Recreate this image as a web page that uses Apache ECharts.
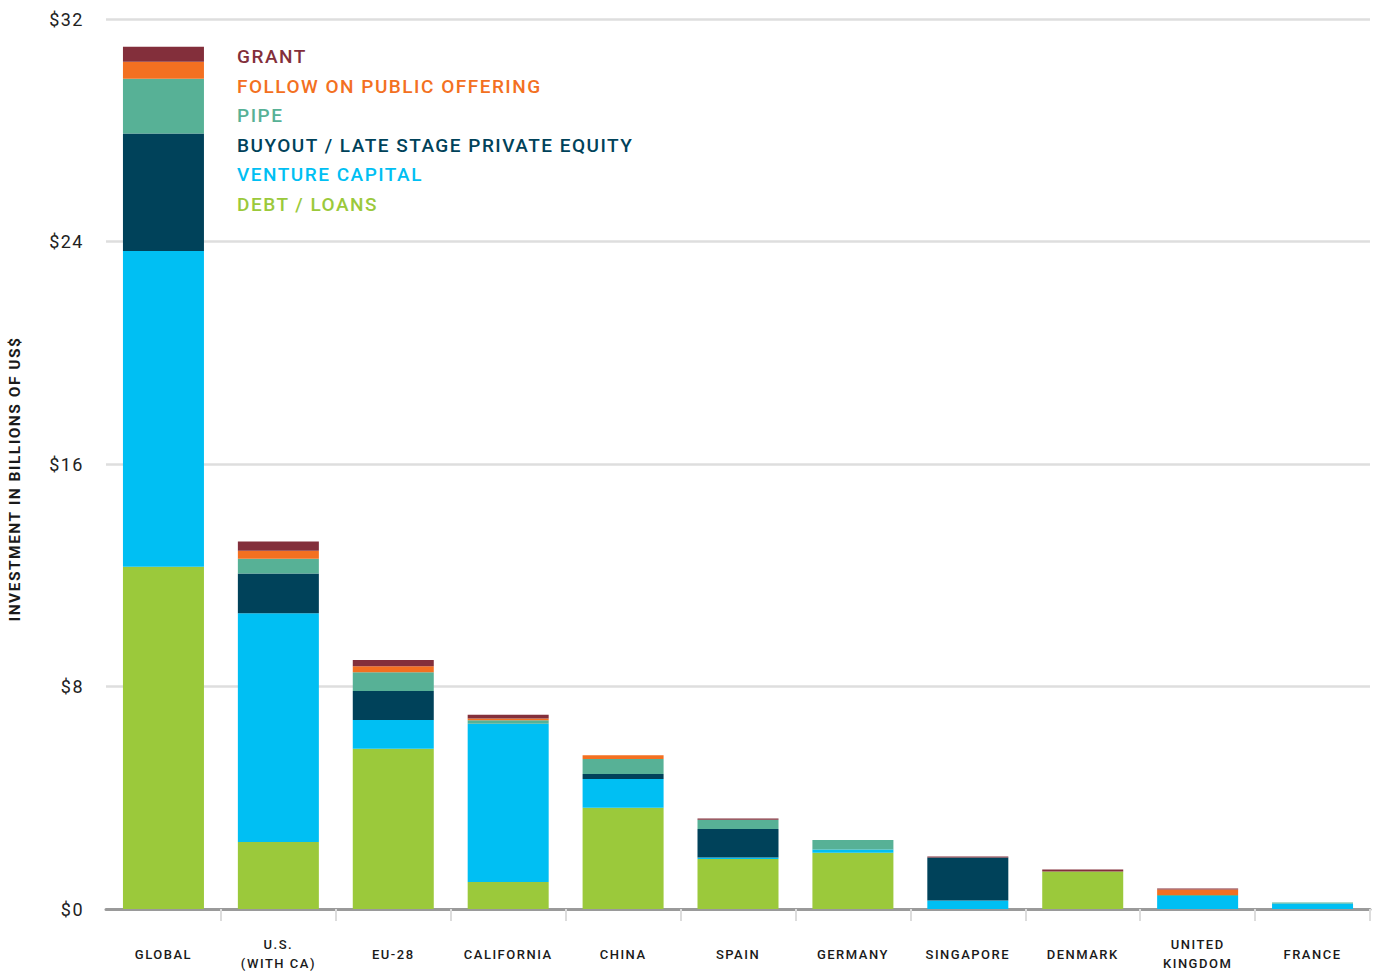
<!DOCTYPE html>
<html>
<head>
<meta charset="utf-8">
<script src="https://cdn.jsdelivr.net/npm/echarts@6/dist/echarts.min.js"></script>
<style>
html,body{margin:0;padding:0;background:#fff}
#c{width:1378px;height:973px}
#c text{letter-spacing:1.5px}
</style>
</head>
<body>
<div id="c"></div>
<script>
const categories = ['GLOBAL','U.S.\n(WITH CA)','EU-28','CALIFORNIA','CHINA','SPAIN','GERMANY','SINGAPORE','DENMARK','UNITED\nKINGDOM','FRANCE'];
const debtLoans = [12.31, 2.41, 5.76, 0.97, 3.64, 1.80, 2.02, 0, 1.35, 0, 0];
const ventureCapital = [11.35, 8.22, 1.04, 5.69, 1.03, 0.05, 0.12, 0.31, 0, 0.47, 0.20];
const buyout = [4.22, 1.43, 1.04, 0, 0.18, 1.03, 0, 1.54, 0, 0, 0];
const pipe = [1.97, 0.53, 0.67, 0.13, 0.54, 0.33, 0.34, 0, 0, 0.03, 0.03];
const followOn = [0.61, 0.29, 0.22, 0.06, 0.14, 0, 0, 0, 0, 0.20, 0];
const grant = [0.54, 0.33, 0.22, 0.13, 0, 0.04, 0, 0.04, 0.07, 0.04, 0];
const yTicks = [0, 8, 16, 24, 32];

const seriesDefs = [
  {name:'DEBT / LOANS', data: debtLoans, color:'#9bc93b'},
  {name:'VENTURE CAPITAL', data: ventureCapital, color:'#00bff3'},
  {name:'BUYOUT / LATE STAGE PRIVATE EQUITY', data: buyout, color:'#00425a'},
  {name:'PIPE', data: pipe, color:'#57b196'},
  {name:'FOLLOW ON PUBLIC OFFERING', data: followOn, color:'#f37021'},
  {name:'GRANT', data: grant, color:'#832f3b'}
];

const chart = echarts.init(document.getElementById('c'), null, {renderer:'svg'});
chart.setOption({
  animation:false,
  backgroundColor:'#fff',
  grid:{left:106, right:8, top:19, bottom:60, containLabel:false},
  legend:{
    orient:'vertical', left:227, top:41, itemWidth:0, itemHeight:14, itemGap:8.5,
    selectedMode:false,
    textStyle:{fontFamily:'Roboto', fontWeight:500, fontSize:19, lineHeight:21},
    data: seriesDefs.slice().reverse().map(s => ({name:s.name, icon:'rect', textStyle:{color:s.color}}))
  },
  graphic:[{
    type:'text', x:15, y:479, rotation:Math.PI/2,
    style:{text:'INVESTMENT IN BILLIONS OF US$', fill:'#1a1a1a', font:'bold 15.5px Roboto', textAlign:'center', textVerticalAlign:'middle'}
  }],
  xAxis:{
    type:'category', data:categories, boundaryGap:true,
    axisLine:{show:true, lineStyle:{color:'#9a9a9a', width:3}},
    axisTick:{show:true, length:12, lineStyle:{color:'#dcdcdc', width:2}, interval:function(i){return i>0;}},
    axisLabel:{interval:0, margin:45, verticalAlign:'middle', color:'#1a1a1a', fontFamily:'Roboto', fontWeight:500, fontSize:13, lineHeight:19}
  },
  yAxis:{
    type:'value', min:0, max:32, interval:8,
    axisLine:{show:false}, axisTick:{show:false},
    splitLine:{lineStyle:{color:'#dedede', width:2.5}},
    axisLabel:{margin:22, color:'#222', fontFamily:'Roboto', fontSize:18, formatter:v => yTicks.includes(v) ? '$' + v : ''}
  },
  series: seriesDefs.map(s => ({
    name:s.name, type:'bar', stack:'total', data:s.data, barWidth:81,
    itemStyle:{color:s.color}, emphasis:{disabled:true}
  }))
});
</script>
</body>
</html>
